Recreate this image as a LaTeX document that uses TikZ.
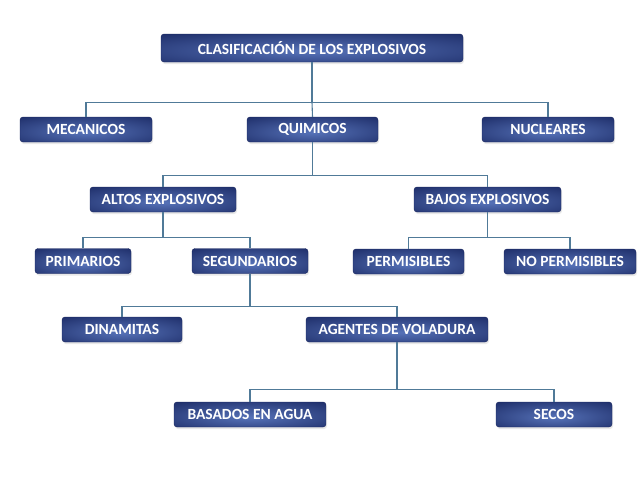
\documentclass[tikz,border=0pt]{standalone}
\usepackage{fontspec}
\setmainfont{Carlito}
\usetikzlibrary{shadows}
\usetikzlibrary{positioning}

\definecolor{boxin}{RGB}{86,114,184}
\definecolor{boxout}{RGB}{22,36,94}
\definecolor{linkblue}{RGB}{80,122,152}
\pgfdeclareradialshading{boxglow}{\pgfpoint{0bp}{-6bp}}{color(0bp)=(boxin); color(44bp)=(boxout); color(80bp)=(boxout)}

\begin{document}
\begin{tikzpicture}[x=1pt,y=-1pt,
  box/.style={rectangle,rounded corners=3pt,shading=boxglow,draw=boxout,line width=0.4pt,
    text=white,font=\fontsize{15.5}{18}\selectfont\bfseries,minimum height=25pt,inner sep=0pt,
    drop shadow={opacity=0.18,shadow xshift=1pt,shadow yshift=-2pt}},
  link/.style={draw=linkblue,line width=1.1pt}]
\useasboundingbox (0,0) rectangle (638,479);

\node[box,minimum width=302pt,minimum height=28pt] (clas) at (312,48) {CLASIFICACIÓN DE LOS EXPLOSIVOS};

\node[box,minimum width=132pt] (mec) at (86,129.5) {MECANICOS};
\node[box,minimum width=131pt] (quim) at (312.5,129.5) {QUIMICOS};
\node[box,minimum width=132pt] (nuc) at (548,129.5) {NUCLEARES};

\node[box,minimum width=146pt] (altos) at (163,199.5) {ALTOS EXPLOSIVOS};
\node[box,minimum width=147pt] (bajos) at (487.5,199.5) {BAJOS EXPLOSIVOS};

\node[box,minimum width=96pt] (prim) at (83,261) {PRIMARIOS};
\node[box,minimum width=116pt] (seg) at (250,261) {SEGUNDARIOS};
\node[box,minimum width=111pt] (perm) at (408.5,261.5) {PERMISIBLES};
\node[box,minimum width=132pt] (noperm) at (570,261.5) {NO PERMISIBLES};

\node[box,minimum width=120pt] (din) at (122,329.5) {DINAMITAS};
\node[box,minimum width=182pt] (agen) at (397,329.5) {AGENTES DE VOLADURA};

\node[box,minimum width=152pt] (bas) at (250,414.5) {BASADOS EN AGUA};
\node[box,minimum width=116pt] (secos) at (554,414.5) {SECOS};

\draw[link] (clas.south) -- ++(0,40) coordinate (j1);
\draw[link] (mec.north) |- (j1) -| (nuc.north);
\draw[link] (j1) -- (quim.north);

\draw[link] (quim.south) -- ++(0,33) coordinate (j2);
\draw[link] (altos.north) |- (j2) -| (bajos.north);

\draw[link] (altos.south) -- ++(0,25) coordinate (j3);
\draw[link] (prim.north) |- (j3) -| (seg.north);

\draw[link] (bajos.south) -- ++(0,25) coordinate (j4);
\draw[link] (perm.north) |- (j4) -| (noperm.north);

\draw[link] (seg.south) -- ++(0,32.5) coordinate (j5);
\draw[link] (din.north) |- (j5) -| (agen.north);

\draw[link] (agen.south) -- ++(0,47) coordinate (j6);
\draw[link] (bas.north) |- (j6) -| (secos.north);

\end{tikzpicture}
\end{document}
